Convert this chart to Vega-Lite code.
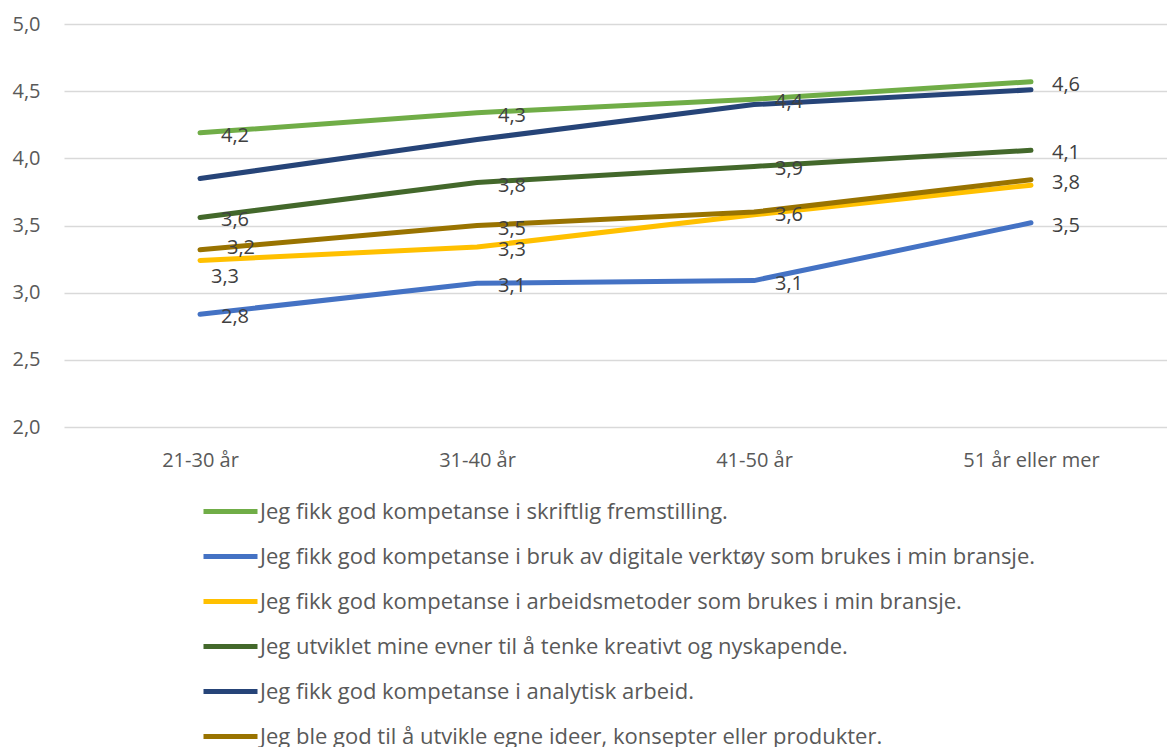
{
  "$schema": "https://vega.github.io/schema/vega-lite/v6.json",
  "width": 1103,
  "height": 403,
  "autosize": {"type": "none"},
  "padding": {"left": 64, "top": 24, "right": 0, "bottom": 320},
  "background": "white",
  "config": {
    "view": {"stroke": null},
    "locale": {"number": {"decimal": ",", "thousands": " ", "grouping": [3], "currency": ["", " kr"]}},
    "font": "Open Sans"
  },
  "data": {"values": [
    {"age": "21-30 år", "series": "Jeg fikk god kompetanse i skriftlig fremstilling.", "value": 4.19},
    {"age": "31-40 år", "series": "Jeg fikk god kompetanse i skriftlig fremstilling.", "value": 4.34},
    {"age": "41-50 år", "series": "Jeg fikk god kompetanse i skriftlig fremstilling.", "value": 4.44},
    {"age": "51 år eller mer", "series": "Jeg fikk god kompetanse i skriftlig fremstilling.", "value": 4.57},
    {"age": "21-30 år", "series": "Jeg fikk god kompetanse i bruk av digitale verktøy som brukes i min bransje.", "value": 2.84},
    {"age": "31-40 år", "series": "Jeg fikk god kompetanse i bruk av digitale verktøy som brukes i min bransje.", "value": 3.07},
    {"age": "41-50 år", "series": "Jeg fikk god kompetanse i bruk av digitale verktøy som brukes i min bransje.", "value": 3.09},
    {"age": "51 år eller mer", "series": "Jeg fikk god kompetanse i bruk av digitale verktøy som brukes i min bransje.", "value": 3.52},
    {"age": "21-30 år", "series": "Jeg fikk god kompetanse i arbeidsmetoder som brukes i min bransje.", "value": 3.24},
    {"age": "31-40 år", "series": "Jeg fikk god kompetanse i arbeidsmetoder som brukes i min bransje.", "value": 3.34},
    {"age": "41-50 år", "series": "Jeg fikk god kompetanse i arbeidsmetoder som brukes i min bransje.", "value": 3.58},
    {"age": "51 år eller mer", "series": "Jeg fikk god kompetanse i arbeidsmetoder som brukes i min bransje.", "value": 3.80},
    {"age": "21-30 år", "series": "Jeg utviklet mine evner til å tenke kreativt og nyskapende.", "value": 3.56},
    {"age": "31-40 år", "series": "Jeg utviklet mine evner til å tenke kreativt og nyskapende.", "value": 3.82},
    {"age": "41-50 år", "series": "Jeg utviklet mine evner til å tenke kreativt og nyskapende.", "value": 3.94},
    {"age": "51 år eller mer", "series": "Jeg utviklet mine evner til å tenke kreativt og nyskapende.", "value": 4.06},
    {"age": "21-30 år", "series": "Jeg fikk god kompetanse i analytisk arbeid.", "value": 3.85},
    {"age": "31-40 år", "series": "Jeg fikk god kompetanse i analytisk arbeid.", "value": 4.14},
    {"age": "41-50 år", "series": "Jeg fikk god kompetanse i analytisk arbeid.", "value": 4.40},
    {"age": "51 år eller mer", "series": "Jeg fikk god kompetanse i analytisk arbeid.", "value": 4.51},
    {"age": "21-30 år", "series": "Jeg ble god til å utvikle egne ideer, konsepter eller produkter.", "value": 3.32},
    {"age": "31-40 år", "series": "Jeg ble god til å utvikle egne ideer, konsepter eller produkter.", "value": 3.50},
    {"age": "41-50 år", "series": "Jeg ble god til å utvikle egne ideer, konsepter eller produkter.", "value": 3.60},
    {"age": "51 år eller mer", "series": "Jeg ble god til å utvikle egne ideer, konsepter eller produkter.", "value": 3.84}
  ]},
  "encoding": {
    "x": {
      "field": "age", "type": "ordinal", "sort": null,
      "scale": {"type": "point", "padding": 0.491},
      "axis": {"title": null, "domain": false, "ticks": false, "labelAngle": 0, "labelFontSize": 20, "labelColor": "#595959", "labelPadding": 23, "grid": false}
    },
    "y": {
      "field": "value", "type": "quantitative",
      "scale": {"domain": [2, 5], "nice": false, "zero": false},
      "axis": {"title": null, "domain": false, "ticks": false, "values": [2, 2.5, 3, 3.5, 4, 4.5, 5], "format": ".1f", "labelFontSize": 20, "labelColor": "#595959", "labelPadding": 24, "gridColor": "#d9d9d9", "gridWidth": 1.5}
    }
  },
  "layer": [
    {
      "mark": {"type": "line", "strokeWidth": 5, "strokeCap": "round", "strokeJoin": "round"},
      "encoding": {
        "color": {
          "field": "series", "type": "nominal",
          "scale": {
            "domain": [
              "Jeg fikk god kompetanse i skriftlig fremstilling.",
              "Jeg fikk god kompetanse i bruk av digitale verktøy som brukes i min bransje.",
              "Jeg fikk god kompetanse i arbeidsmetoder som brukes i min bransje.",
              "Jeg utviklet mine evner til å tenke kreativt og nyskapende.",
              "Jeg fikk god kompetanse i analytisk arbeid.",
              "Jeg ble god til å utvikle egne ideer, konsepter eller produkter."
            ],
            "range": ["#70AD47", "#4472C4", "#FFC000", "#43682B", "#264478", "#997300"]
          },
          "legend": {
            "title": null, "orient": "none", "legendX": 137, "legendY": 458, "direction": "vertical",
            "symbolType": "stroke", "symbolSize": 2916, "symbolStrokeWidth": 5,
            "labelFontSize": 22, "labelColor": "#595959", "labelOffset": 0, "labelLimit": 1000,
            "rowPadding": 4, "padding": 0
          }
        }
      }
    },
    {
      "transform": [
        {"filter": "datum.series !== 'Jeg fikk god kompetanse i analytisk arbeid.' && !(datum.age === '21-30 år' && (datum.series === 'Jeg fikk god kompetanse i arbeidsmetoder som brukes i min bransje.' || datum.series === 'Jeg ble god til å utvikle egne ideer, konsepter eller produkter.')) && !((datum.age === '41-50 år' || datum.age === '51 år eller mer') && datum.series === 'Jeg fikk god kompetanse i arbeidsmetoder som brukes i min bransje.')"}
      ],
      "mark": {"type": "text", "align": "left", "baseline": "middle", "dx": 21, "dy": 3, "fontSize": 20, "color": "#404040"},
      "encoding": {"text": {"field": "value", "type": "quantitative", "format": ".1f"}}
    },
    {
      "transform": [
        {"filter": "datum.age === '21-30 år' && datum.series === 'Jeg fikk god kompetanse i arbeidsmetoder som brukes i min bransje.'"}
      ],
      "mark": {"type": "text", "align": "left", "baseline": "middle", "dx": 27, "dy": -12, "fontSize": 20, "color": "#404040"},
      "encoding": {"text": {"field": "value", "type": "quantitative", "format": ".1f"}}
    },
    {
      "transform": [
        {"filter": "datum.age === '21-30 år' && datum.series === 'Jeg ble god til å utvikle egne ideer, konsepter eller produkter.'"}
      ],
      "mark": {"type": "text", "align": "left", "baseline": "middle", "dx": 11, "dy": 27, "fontSize": 20, "color": "#404040"},
      "encoding": {"text": {"field": "value", "type": "quantitative", "format": ".1f"}}
    }
  ]
}
